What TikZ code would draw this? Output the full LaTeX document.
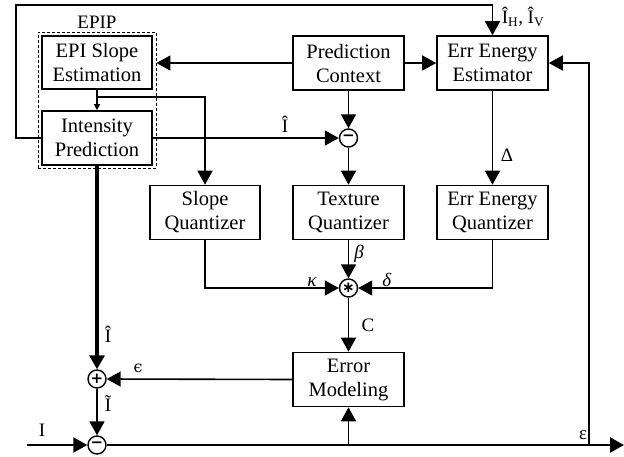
\documentclass[tikz,border=0pt]{standalone}
\usepackage{fontspec}
\setmainfont{Liberation Serif}
\newfontfamily\symfont{DejaVu Sans}
\newfontfamily\greekfont{DejaVu Serif}
\usetikzlibrary{arrows.meta}

\begin{document}
\begin{tikzpicture}[x=1pt,y=-1pt,
  blk/.style={draw, line width=1.6pt, minimum width=111pt, minimum height=54pt,
    inner sep=0pt, align=center, font=\fontsize{20.5}{24}\selectfont},
  op/.style={draw, circle, line width=1.4pt, minimum size=18pt, inner sep=0pt,
    font=\symfont\fontsize{15}{15}\selectfont\bfseries},
  wire/.style={line width=1.6pt},
  arr/.style={wire, -{Triangle[length=14pt,width=15pt]}},
  smallarr/.style={wire, line width=1.2pt, -{Triangle[length=6pt,width=6pt]}},
  lbl/.style={font=\fontsize{19}{19}\selectfont, inner sep=0pt},
]
\useasboundingbox (0,0) rectangle (624,456);

% EPIP group
\node[draw, dashed, line width=0.8pt, dash pattern=on 3pt off 2pt,
  minimum width=118pt, minimum height=136pt, inner sep=0pt] (epip) at (97,100) {};
\node[lbl] (epiplbl) at (97,22) {EPIP};
\node[blk, minimum width=110pt, minimum height=53pt] (epis) at (97,62.5) {EPI Slope\\Estimation};
\node[blk, minimum width=110pt] (ip) at (97,138) {Intensity\\Prediction};

% upper row
\node[blk] (pc)  at (348.5,63) {Prediction\\Context};
\node[blk] (eee) at (492.5,63) {Err Energy\\Estimator};

% quantizers
\node[blk, minimum width=110pt] (sq) at (205,212.5) {Slope\\Quantizer};
\node[blk] (tq) at (348.5,212.5) {Texture\\Quantizer};
\node[blk] (eq) at (492.5,212.5) {Err Energy\\Quantizer};

\node[blk] (em) at (348.5,379.5) {Error\\Modeling};

% operators
\node[op] (sub1) at (348.5,138) {−};
\node[op] (star) at (348.5,288) {∗};
\node[op] (plus) at (97,379) {+};
\node[op] (sub2) at (97,445) {−};

% junction and end points
\coordinate (br)  at (97,97);
\coordinate (lt)  at (16,5);
\coordinate (in)  at (27,445);
\coordinate (out) at (624,445);
\coordinate (j1)  at (348.5,445);
\coordinate (j2)  at (589,445);

% connectors
\draw[arr] (pc.west) -- (pc.west -| epip.east);
\draw[arr] (pc.east) -- (eee.west);
\draw[arr] (pc.south) -- (sub1.north);
\draw[arr] (ip.east) -- (sub1.west);
\draw[arr] (sub1.south) -- (tq.north);
\draw[arr] (eee.south) -- (eq.north);
\draw[smallarr] (epis.south) -- (ip.north);
\draw[arr] (br) -| (sq.north);
\draw[arr] (ip.west) -| (lt) -| (eee.north);
\draw[arr] (sq.south) |- (star.west);
\draw[arr] (tq.south) -- (star.north);
\draw[arr] (eq.south) |- (star.east);
\draw[arr] (star.south) -- (em.north);
\draw[arr, line width=3.2pt] (ip.south) -- (plus.north);
\draw[arr] (em.west) -- (plus.east);
\draw[arr] (plus.south) -- (sub2.north);
\draw[arr, line width=2.2pt] (in) -- (sub2.west);
\draw[arr, line width=2.2pt] (sub2.east) -- (out);
\draw[arr] (j1) -- (em.south);
\draw[arr] (j2) |- (eee.east);

% signal labels
\node[lbl] (lIhat)  at (285,124) {Î};
\node[lbl] (lIHV)   at (523,17) {Î\textsubscript{H}, Î\textsubscript{V}};
\node[lbl] (lDelta) at (507,155) {Δ};
\node[lbl] (lkappa) at (312,282) {\textit{κ}};
\node[lbl] (lbeta)  at (359,254) {\textit{β}};
\node[lbl] (ldelta) at (387,280) {\textit{δ}};
\node[lbl] (lC)     at (368,325) {C};
\node[lbl] (lIhat2) at (108,334) {Î};
\node[lbl] (leps)   at (138,368) {\greekfont\fontsize{16}{16}\selectfont ϵ};
\node[lbl] (lItil)  at (108,404) {Ĩ};
\node[lbl] (lI)     at (42,430) {I};
\node[lbl] (lvareps) at (583,435) {ε};
\end{tikzpicture}
\end{document}
